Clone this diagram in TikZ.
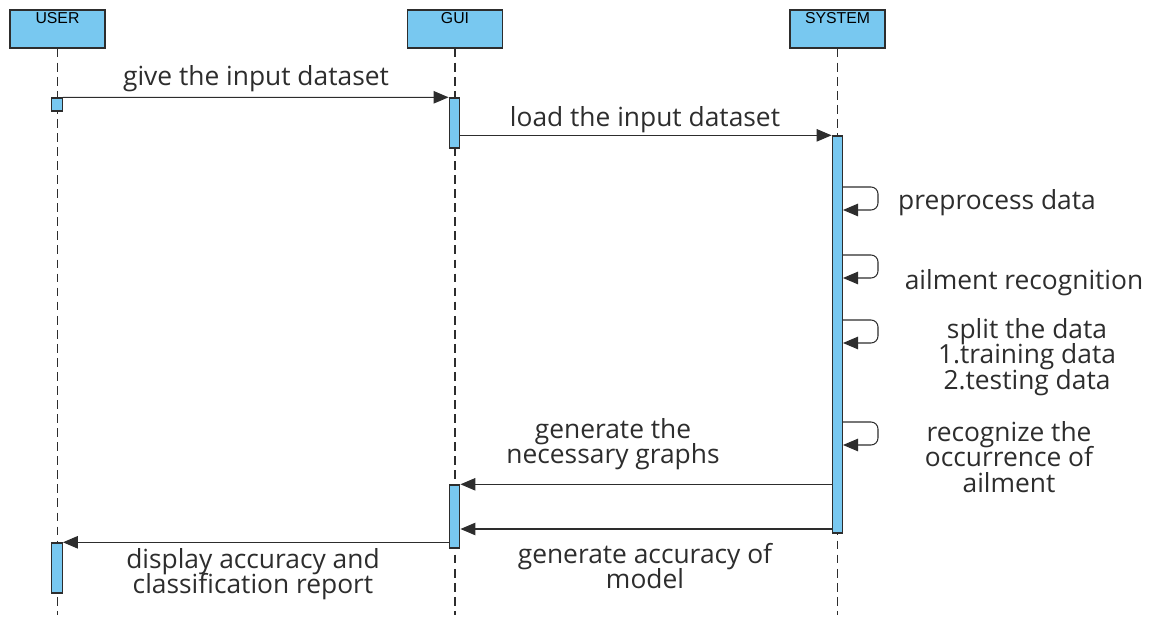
\documentclass[tikz,border=0pt]{standalone}
\usepackage{fontspec}
\setmainfont{Open Sans}
\newfontfamily\boxfont{Liberation Sans}
\usetikzlibrary{arrows.meta}
\definecolor{actblue}{RGB}{120,200,240}
\definecolor{ink}{RGB}{45,45,45}
\newcommand\msgfont{\fontsize{15}{14.6}\selectfont\lineskiplimit=-20pt\relax}
\begin{document}
\begin{tikzpicture}[x=0.02cm, y=-0.02cm,
  every node/.style = {text=ink},
  obj/.style = {draw=ink, fill=actblue, line width=0.8pt,
    minimum width=1.9cm, minimum height=0.76cm, inner sep=0pt},
  act/.style = {draw=ink, fill=actblue, line width=0.8pt,
    minimum width=0.21cm, inner sep=0pt},
  life/.style = {draw=ink, dashed, dash pattern=on 5pt off 3pt, line width=0.75pt},
  msg/.style = {draw=ink, line width=0.6pt,
    -{Triangle[length=0.3cm, width=0.25cm]}},
  self/.style = {msg, rounded corners=4pt},
  txt/.style = {align=center, inner sep=0pt, font=\msgfont},
  head/.style = {anchor=north, inner sep=1.5pt, text=black,
    font=\boxfont\fontsize{9}{10}\selectfont}]
  \useasboundingbox (0,0) rectangle (1151,617);

  % participants
  \node[obj, label={[head]north:USER}] (user) at (57.5,29) {};
  \node[obj, label={[head]north:GUI}] (gui) at (455,29) {};
  \node[obj, label={[head]north:SYSTEM}] (sys) at (837.5,29) {};

  % lifelines
  \draw[life] (user.south) -- (user.south |- 0,615);
  \draw[life] (gui.south) -- (gui.south |- 0,615);
  \draw[life] (sys.south) -- (sys.south |- 0,615);

  % activations
  \node[act, minimum height=0.26cm] (uact1) at (57,104.5) {};
  \node[act, minimum height=1.0cm] (gact1) at (454.5,123) {};
  \node[act, minimum height=7.94cm] (sact) at (837.5,334.5) {};
  \node[act, minimum height=1.26cm] (gact2) at (454.5,516.5) {};
  \node[act, minimum height=1.0cm] (uact2) at (57,568) {};

  % messages
  \draw[msg] (uact1.north east) -- (gact1.north west);
  \node[txt] (m1) at (256,79) {give the input dataset};
  \draw[msg] (gact1.east |- sact.north) -- (sact.north west);
  \node[txt] (m2) at (645,120) {load the input dataset};

  % self calls
  \coordinate (s1) at (843,187);
  \coordinate (s2) at (843,255);
  \coordinate (s3) at (843,320);
  \coordinate (s4) at (843,422);
  \foreach \s in {s1,s2,s3,s4}
    \draw[self] (\s) -- ++(35,0) -- ++(0,23) -- ++(-35,0);
  \node[txt] (l1) at (997,203) {preprocess data};
  \node[txt] (l2) at (1024,283) {ailment recognition};
  \node[txt] (l3) at (1027,357) {split the data\\1.training data\\2.testing data};
  \node[txt] (l4) at (1009,457) {recognize the\\occurrence of\\ailment};

  \draw[msg] (sact.west |- gact2.north) -- (gact2.north east);
  \node[txt] (m3) at (613,444) {generate the\\necessary graphs};
  \draw[msg] (sact.west |- 0,529) -- (gact2.east |- 0,529);
  \node[txt] (m4) at (645,566) {generate accuracy of\\model};
  \draw[msg] (gact2.west |- uact2.north) -- (uact2.north east);
  \node[txt] (m5) at (253,574) {display accuracy and\\classification report};
\end{tikzpicture}
\end{document}
